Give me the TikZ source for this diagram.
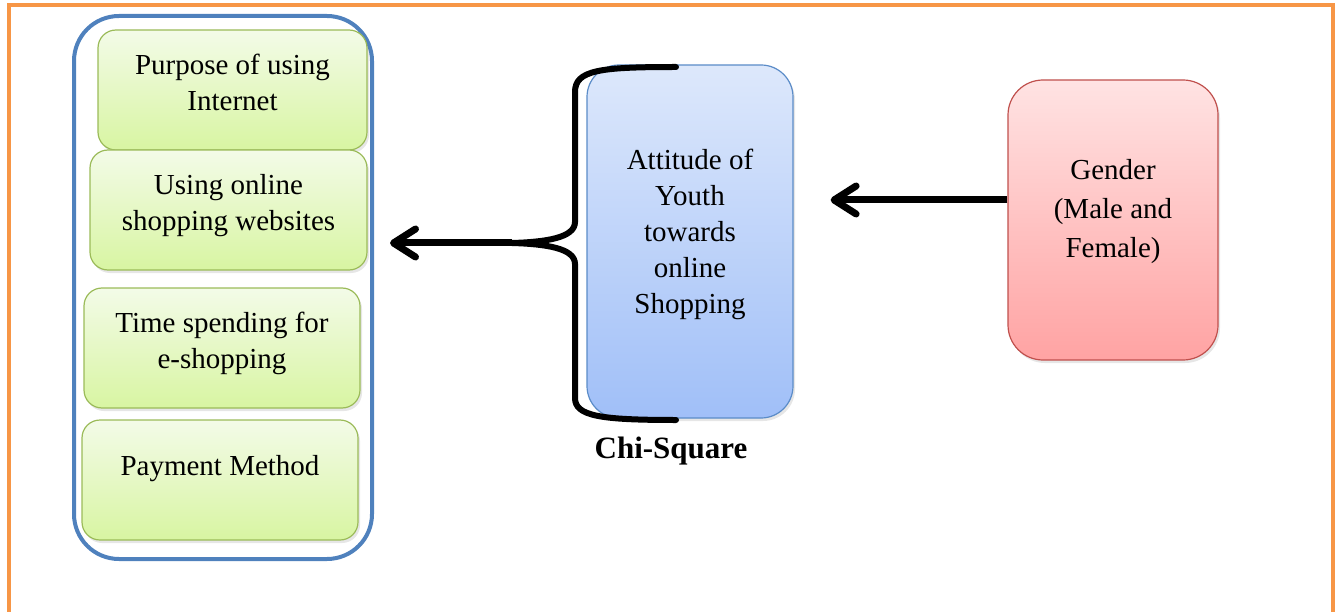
\documentclass[tikz,border=0pt]{standalone}
\usepackage{fontspec}
\setmainfont{Liberation Serif}
\newfontfamily\timesfont{Liberation Serif}
\usetikzlibrary{arrows.meta,shadows}
\definecolor{frameorange}{HTML}{F79646}
\definecolor{groupblue}{HTML}{4F81BD}
\definecolor{greenline}{HTML}{9BBB59}
\definecolor{greentop}{HTML}{F3FBE8}
\definecolor{greenbottom}{HTML}{D8F5A2}
\definecolor{blueline}{HTML}{5B8CC8}
\definecolor{bluetop}{HTML}{DDE8FB}
\definecolor{bluebottom}{HTML}{A0BFF8}
\definecolor{redline}{HTML}{C0504D}
\definecolor{redtop}{HTML}{FFE3E3}
\definecolor{redbottom}{HTML}{FFA3A3}
\begin{document}
\begin{tikzpicture}[x=1pt, y=-1pt,
    every node/.style = {shape=rectangle, align=center, inner sep=0pt,
      font=\timesfont\fontsize{29}{36}\selectfont},
    greenbox/.style = {draw=greenline, line width=1.2pt, rounded corners=18pt,
      top color=greentop, bottom color=greenbottom,
      minimum height=120pt, text depth=16pt,
      drop shadow={shadow xshift=2pt, shadow yshift=-3pt, opacity=0.2}},
    bluebox/.style = {draw=blueline, line width=1.2pt, rounded corners=32pt,
      top color=bluetop, bottom color=bluebottom,
      drop shadow={shadow xshift=2pt, shadow yshift=-3pt, opacity=0.2}},
    redbox/.style = {draw=redline, line width=1.2pt, rounded corners=35pt,
      top color=redtop, bottom color=redbottom,
      drop shadow={shadow xshift=2pt, shadow yshift=-3pt, opacity=0.2}},
    groupbox/.style = {draw=groupblue, line width=4pt, rounded corners=45pt},
    arrowline/.style = {line width=7pt, -{Straight Barb[length=22pt, width=28pt, round]}},
    braceline/.style = {line width=6pt, line cap=round}]
    \useasboundingbox (0,0) rectangle (1340,612);
    \draw[frameorange, line width=4pt] (9,612) -- (9,5) -- (1333,5) -- (1333,612);
    \node[groupbox, minimum width=298pt, minimum height=543pt] (group) at (223,287.5) {};
    \node[greenbox, minimum width=269pt] (purpose) at (232.5,90) {Purpose of using\\ Internet};
    \node[greenbox, minimum width=277pt] (websites) at (228.5,210) {Using online\\ shopping websites};
    \node[greenbox, minimum width=276pt] (time) at (222,348) {Time spending for\\ e-shopping};
    \node[greenbox, minimum width=276pt, text depth=30pt] (payment) at (220,480) {Payment Method};
    \node[bluebox, minimum width=206pt, minimum height=353pt, text depth=20pt] (attitude) at (690,241.5)
      {Attitude of\\ Youth\\ towards\\ online\\ Shopping};
    \node[redbox, minimum width=210pt, minimum height=280pt, text depth=24pt,
      font=\timesfont\fontsize{29}{39}\selectfont] (gender) at (1113,220)
      {Gender\\ (Male and\\ Female)};
    \node[font=\timesfont\fontsize{31}{36}\selectfont\bfseries] (chi) at (671,451) {Chi-Square};
    \coordinate (tip) at (512,243);
    \draw[braceline] (676,67) .. controls (600,67) and (575,70) .. (575,92) -- (575,222)
      .. controls (575,238) and (545,242) .. (tip)
      .. controls (545,244) and (575,248) .. (575,264) -- (575,398)
      .. controls (575,416) and (600,420) .. (676,420);
    \draw[arrowline, shorten >=16pt] (tip) -- (group.east |- tip);
    \draw[arrowline, shorten >=37pt] ([yshift=20pt]gender.west) -- ([yshift=20pt]gender.west -| attitude.east);
\end{tikzpicture}
\end{document}
